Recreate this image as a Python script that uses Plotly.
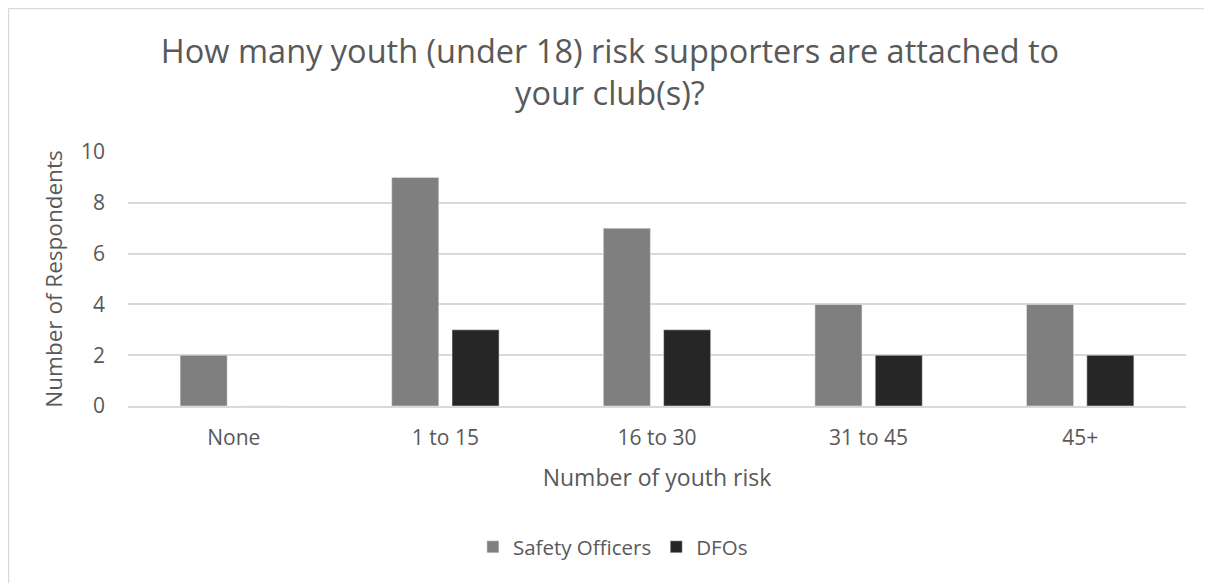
import plotly.graph_objects as go

CATEGORIES = ["None", "1 to 15", "16 to 30", "31 to 45", "45+"]
SAFETY_OFFICERS = [2, 9, 7, 4, 4]
DFOS = [0, 3, 3, 2, 2]
Y_TICKS = [0, 2, 4, 6, 8, 10]

TEXT_COLOR = "#595959"
GRID_COLOR = "#d9d9d9"
SAFETY_COLOR = "#7f7f7f"
DFO_COLOR = "#262626"
FONT = "Open Sans"

fig = go.Figure()
fig.add_trace(
    go.Bar(x=CATEGORIES, y=SAFETY_OFFICERS, name="Safety Officers", marker_color=SAFETY_COLOR)
)
fig.add_trace(go.Bar(x=CATEGORIES, y=DFOS, name="DFOs", marker_color=DFO_COLOR))

# chart frame (top and left edges visible)
fig.add_shape(type="line", xref="paper", yref="paper", x0=-0.113, x1=1.05, y0=1.565, y1=1.565,
              line={"color": GRID_COLOR, "width": 1.5})
fig.add_shape(type="line", xref="paper", yref="paper", x0=-0.113, x1=-0.113, y0=1.565, y1=-0.75,
              line={"color": GRID_COLOR, "width": 1.5})

fig.update_layout(
    width=1204,
    height=575,
    paper_bgcolor="white",
    plot_bgcolor="white",
    margin={"l": 120, "r": 26, "t": 144, "b": 177},
    font={"family": FONT, "color": TEXT_COLOR, "size": 21},
    barmode="group",
    bargap=0.43,
    bargroupgap=0.22,
    title={
        "text": "How many youth (under 18) risk supporters are attached to<br>your club(s)?",
        "x": 0.5,
        "xanchor": "center",
        "yref": "container",
        "y": 0.905,
        "yanchor": "top",
        "font": {"family": FONT, "size": 32.5, "color": TEXT_COLOR},
    },
    legend={
        "orientation": "h",
        "x": 0.326,
        "xanchor": "left",
        "y": -0.555,
        "yanchor": "middle",
        "font": {"size": 20.5},
    },
    xaxis={
        "title": {"text": "Number of youth risk", "font": {"size": 23}, "standoff": 20},
        "showline": True,
        "linecolor": GRID_COLOR,
        "linewidth": 1.5,
        "ticks": "",
        "tickfont": {"size": 21},
        "ticklabelstandoff": 12,
    },
    yaxis={
        "title": {"text": "Number of Respondents", "font": {"size": 22.5}, "standoff": 12},
        "range": [0, 10],
        "tickvals": Y_TICKS,
        "gridcolor": GRID_COLOR,
        "gridwidth": 1.5,
        "zeroline": False,
        "tickfont": {"size": 21},
        "ticklabelstandoff": 22,
    },
)

fig.write_html("out.html")
